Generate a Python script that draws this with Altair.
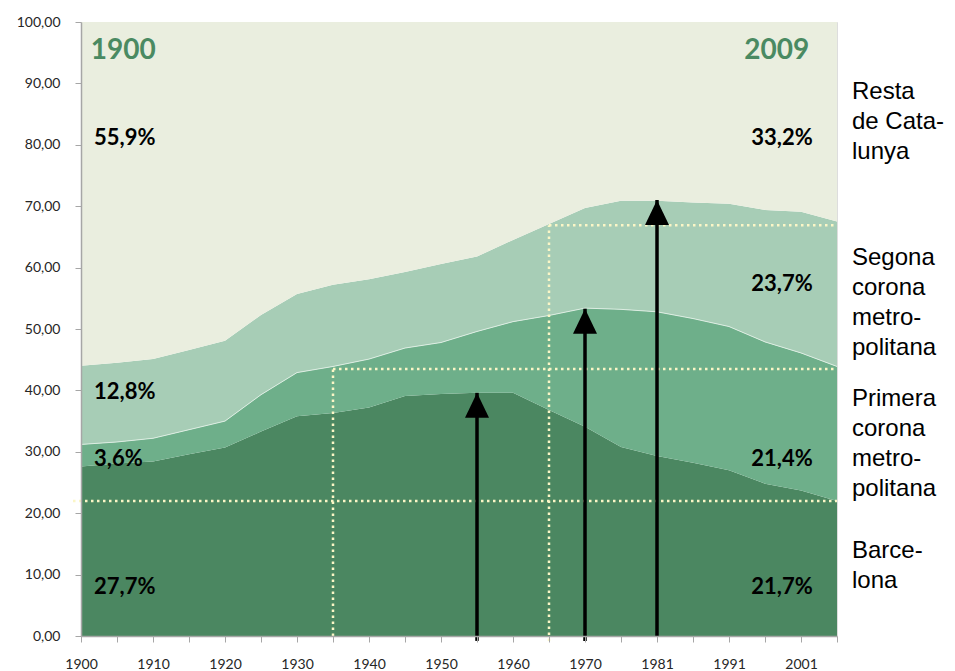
import json
import altair as alt
import pandas as pd

# ---------------- data ----------------
years = ["1900", "1905", "1910", "1915", "1920", "1925", "1930", "1935", "1940",
         "1945", "1950", "1955", "1960", "1965", "1970", "1975", "1981", "1986",
         "1991", "1996", "2001", "2009"]
tick_labels = ["1900", "1910", "1920", "1930", "1940", "1950", "1960", "1970",
               "1981", "1991", "2001"]

barcelona = [27.6, 28.1, 28.4, 29.6, 30.7, 33.3, 35.8, 36.3, 37.2, 39.1, 39.4,
             39.6, 39.6, 36.8, 34.1, 30.8, 29.3, 28.2, 27.0, 24.8, 23.7, 22.0]
primera = [3.6, 3.5, 3.8, 4.0, 4.3, 6.0, 7.1, 7.6, 7.9, 7.8, 8.4,
           10.0, 11.6, 15.4, 19.3, 22.4, 23.5, 23.5, 23.4, 23.1, 22.4, 21.9]
segona = [12.8, 12.9, 12.9, 13.0, 13.1, 13.0, 12.8, 13.3, 13.0, 12.4, 12.8,
          12.2, 13.3, 14.9, 16.3, 17.7, 18.1, 18.9, 20.0, 21.5, 23.0, 23.6]
resta = [56.0, 55.5, 54.9, 53.4, 51.9, 47.7, 44.3, 42.8, 41.9, 40.7, 39.4,
         38.2, 35.5, 32.9, 30.3, 29.1, 29.1, 29.4, 29.6, 30.6, 30.9, 32.5]

series = ["Barcelona", "Primera corona metropolitana",
          "Segona corona metropolitana", "Resta de Catalunya"]
colors = ["#4b8761", "#6eaf8a", "#a7cdb6", "#eaeedf"]

ref_levels = [22.0, 43.5, 66.9]
ref_from = ["1935", "1965"]

arrow_years = ["1955", "1970", "1981"]
arrow_tips = [39.6, 53.3, 71.0]
arrow_base = [-0.8, -0.8, 0.0]

pct_left = ["55,9%", "12,8%", "3,6%", "27,7%"]
pct_right = ["33,2%", "23,7%", "21,4%", "21,7%"]
side_labels = [["Resta", "de Cata-", "lunya"],
               ["Segona", "corona", "metro-", "politana"],
               ["Primera", "corona", "metro-", "politana"],
               ["Barce-", "lona"]]
year_titles = ["1900", "2009"]

# ---------------- tables ----------------
rows = []
for k, (name, vals) in enumerate(zip(series, [barcelona, primera, segona, resta])):
    for yr, v in zip(years, vals):
        rows.append({"year": yr, "serie": name, "k": k, "value": v})
df = pd.DataFrame(rows)

top_df = pd.DataFrame({"year": years,
                       "top": [a + b for a, b in zip(barcelona, primera)]})

W, H = 756, 614
GREEN = "#4a8a62"
DOT = "#fbf6c6"
AXC = "#a6a6a6"

x_scale = alt.Scale(type="point", domain=years, padding=0)
y_scale = alt.Scale(domain=[0, 100], nice=False)

label_expr = "indexof(" + json.dumps(tick_labels) + ", datum.label) >= 0 ? datum.label : ''"

x_axis = alt.Axis(title=None, labelExpr=label_expr, labelAngle=0, tickSize=6,
                  labelPadding=15, domainColor=AXC, tickColor=AXC, domainWidth=1.5,
                  tickWidth=1, labelFont="Lato", labelFontSize=14,
                  labelColor="#262626", grid=False, labelOverlap=False, zindex=1)
y_axis = alt.Axis(title=None, values=list(range(0, 101, 10)),
                  labelExpr="replace(format(datum.value, '.2f'), '.', ',')",
                  tickSize=6, labelPadding=15, domainColor=AXC, tickColor=AXC,
                  domainWidth=1.5, tickWidth=1, labelFont="Lato", labelFontSize=14,
                  labelColor="#262626", grid=False, zindex=1)

area = alt.Chart(df).mark_area(interpolate="linear", opacity=1).encode(
    x=alt.X("year:O", scale=x_scale, axis=x_axis),
    y=alt.Y("value:Q", stack="zero", scale=y_scale, axis=y_axis),
    color=alt.Color("serie:N", scale=alt.Scale(domain=series, range=colors), legend=None),
    order=alt.Order("k:Q", sort="ascending"),
)

top_line = alt.Chart(top_df).mark_line(color="#dcede2", strokeWidth=1).encode(
    x="year:O", y="top:Q")

dot_style = dict(color=DOT, strokeWidth=2.5, strokeDash=[2.5, 3.5])

# first horizontal: whole width (slightly left of the axis)
h1 = alt.Chart(alt.Data(values=[{"lvl": ref_levels[0]}])).mark_rule(**dot_style).encode(
    x=alt.value(-8), x2=alt.value(W), y="lvl:Q")

h_df = pd.DataFrame({"from": ref_from, "to": [years[-1]] * len(ref_from),
                     "lvl": ref_levels[1:]})
h_rest = alt.Chart(h_df).mark_rule(**dot_style).encode(
    x="from:O", x2="to:O", y="lvl:Q")
v_df = pd.DataFrame({"from": ref_from, "lvl": ref_levels[1:], "base": [0.0, -0.8]})
v_rest = alt.Chart(v_df).mark_rule(**dot_style).encode(
    x="from:O", y="base:Q", y2="lvl:Q")

arr_df = pd.DataFrame({"year": arrow_years, "tip": arrow_tips, "base": arrow_base})
shafts = alt.Chart(arr_df).mark_rule(color="black", strokeWidth=3.5).encode(
    x="year:O", y="base:Q", y2="tip:Q")
heads = alt.Chart(arr_df).mark_point(shape="M0,0L-0.48,1L0.48,1Z", size=2500,
                                     filled=True, color="black", opacity=1,
                                     strokeWidth=0).encode(x="year:O", y="tip:Q")


def label(txt, x, y, **kw):
    return alt.Chart(alt.Data(values=[{}])).mark_text(**kw).encode(
        x=alt.value(x), y=alt.value(y), text=alt.value(txt))


texts = []
title_style = dict(font="Lato", fontSize=28, fontWeight="bold", color=GREEN,
                   baseline="alphabetic")
texts.append(label(year_titles[0], 9.7, 37.3, align="left", **title_style))
texts.append(label(year_titles[1], 728.3, 37.3, align="right", **title_style))

pct_style = dict(font="Lato", fontSize=22, fontWeight="bold", color="black",
                 baseline="alphabetic")
left_y = [123, 377.3, 444, 572.3]
right_y = [123, 268.7, 443.7, 572.3]
for t, yy in zip(pct_left, left_y):
    texts.append(label(t, 13, yy, align="left", **pct_style))
for t, yy in zip(pct_right, right_y):
    texts.append(label(t, 731.7, yy, align="right", **pct_style))

side_style = dict(font="Liberation Sans", fontSize=24, color="black",
                  baseline="alphabetic", align="left", lineHeight=30)
side_y = [77, 243, 383.7, 535.7]
for t, yy in zip(side_labels, side_y):
    texts.append(label(t, 771, yy, **side_style))

chart = alt.layer(area, top_line, h1, h_rest, v_rest, shafts, heads, *texts).properties(
    width=W, height=H,
    autosize=alt.AutoSizeParams(type="none"),
    padding={"left": 73, "top": 14, "right": 110, "bottom": 34},
).configure_view(stroke=None).configure(background="white")

chart.save("out.html", embed_options={"renderer": "svg", "actions": False})
